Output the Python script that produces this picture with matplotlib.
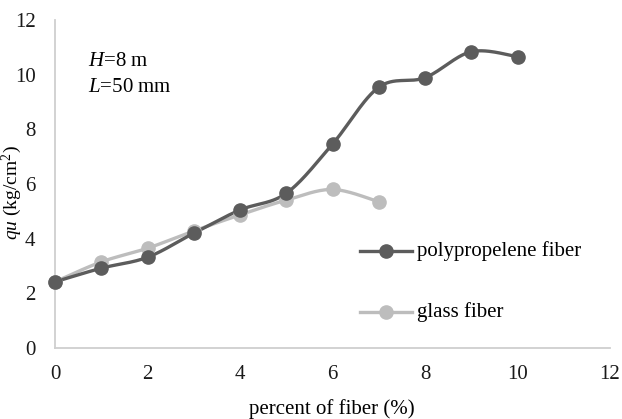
import numpy as np
import matplotlib
matplotlib.use("Agg")
import matplotlib.pyplot as plt

plt.rcParams['font.family'] = ['Liberation Serif', 'DejaVu Serif']
plt.rcParams['mathtext.fontset'] = 'custom'
plt.rcParams['mathtext.rm'] = 'Liberation Serif'
plt.rcParams['mathtext.it'] = 'Liberation Serif:italic'

pp_x = [0, 1, 2, 3, 4, 5, 6, 7, 8, 9, 10]
pp_y = [2.42, 2.92, 3.32, 4.2, 5.05, 5.66, 7.46, 9.54, 9.89, 10.84, 10.66]
gl_x = [0, 1, 2, 3, 4, 5, 6, 7]
gl_y = [2.42, 3.15, 3.65, 4.28, 4.87, 5.41, 5.8, 5.35]
xticks = [0, 2, 4, 6, 8, 10, 12]
yticks = [0, 2, 4, 6, 8, 10, 12]

dark = '#5C5C5C'
light = '#BDBDBD'
FS = 15


def smooth(x, y, n=30, t=1/6):
    x = np.asarray(x, float); y = np.asarray(y, float)
    px = np.concatenate([[x[0]], x, [x[-1]]])
    py = np.concatenate([[y[0]], y, [y[-1]]])
    xs, ys = [], []
    for i in range(1, len(px) - 2):
        p0 = np.array([px[i - 1], py[i - 1]]); p1 = np.array([px[i], py[i]])
        p2 = np.array([px[i + 1], py[i + 1]]); p3 = np.array([px[i + 2], py[i + 2]])
        c1 = p1 + (p2 - p0) * t
        c2 = p2 - (p3 - p1) * t
        s = np.linspace(0, 1, n)[:, None]
        b = (1 - s) ** 3 * p1 + 3 * (1 - s) ** 2 * s * c1 + 3 * (1 - s) * s ** 2 * c2 + s ** 3 * p2
        xs.extend(b[:, 0]); ys.extend(b[:, 1])
    return xs, ys


fig = plt.figure(figsize=(6.22, 4.19), dpi=100)
ax = fig.add_axes([55/622, 1 - 348/419, (610 - 55)/622, (348 - 20)/419])

for x, y, c in [(gl_x, gl_y, light), (pp_x, pp_y, dark)]:
    sx, sy = smooth(x, y)
    ax.plot(sx, sy, color=c, lw=2.4, solid_capstyle='round', zorder=2, clip_on=False)
    ax.plot(x, y, 'o', color=c, ms=9.5, mec=c, zorder=3, clip_on=False)

ax.set_xlim(0, 12)
ax.set_ylim(0, 12)
ax.set_xticks(xticks)
ax.set_yticks(yticks)
ax.tick_params(length=0, labelsize=FS, colors='#1a1a1a')
ax.tick_params(axis='y', pad=14)
ax.tick_params(axis='x', pad=12)
for s in ['top', 'right']:
    ax.spines[s].set_visible(False)
for s in ['left', 'bottom']:
    ax.spines[s].set_color('#CFCFCF')
    ax.spines[s].set_linewidth(1.3)

fig.text(88/622, 1 - 62/419, r'$H$=8 m', fontsize=FS, va='center', ha='left')
fig.text(88/622, 1 - 87/419, r'$L$=50 mm', fontsize=FS, va='center', ha='left')
fig.text(12/622, 1 - 193/419, r'$qu$ (kg/cm$^2$)', fontsize=14, rotation=90, va='center', ha='center')
fig.text(332/622, 1 - 409/419, 'percent of fiber (%)', fontsize=FS, va='center', ha='center')

# legend
for yy, c, lab in [(251, dark, 'polypropelene fiber'), (312, light, 'glass fiber')]:
    fy = 1 - yy/419
    fig.add_artist(plt.Line2D([360/622, 412/622], [fy, fy], color=c, lw=2.4, transform=fig.transFigure))
    fig.add_artist(plt.Line2D([386/622], [fy], marker='o', color=c, ms=9.5, transform=fig.transFigure))
    fig.text(417/622, fy, lab, fontsize=FS, va='center', ha='left')

fig.savefig('out.png', dpi=100)
